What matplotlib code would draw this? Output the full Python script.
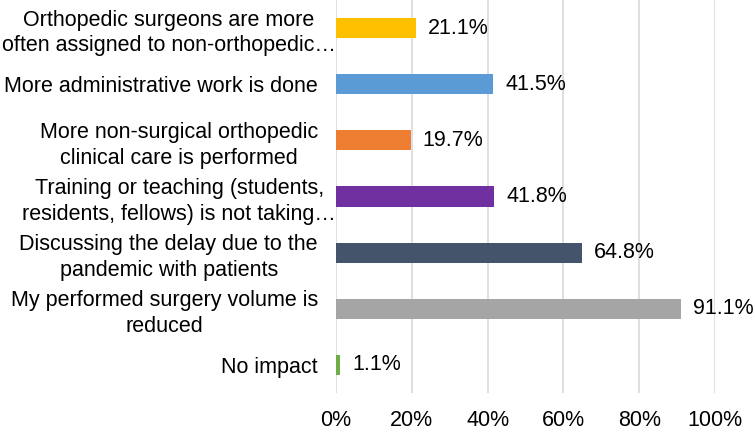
import matplotlib.pyplot as plt
from matplotlib.transforms import ScaledTranslation

plt.rcParams['font.family'] = ['Liberation Sans', 'DejaVu Sans']

categories = [
    'No impact',
    'My performed surgery volume is\nreduced',
    'Discussing the delay due to the\npandemic with patients',
    'Training or teaching (students,\nresidents, fellows) is not taking…',
    'More non-surgical orthopedic\nclinical care is performed',
    'More administrative work is done',
    'Orthopedic surgeons are more\noften assigned to non-orthopedic…',
]
values = [1.1, 91.1, 64.8, 41.8, 19.7, 41.5, 21.1]
colors = ['#70AD47', '#A5A5A5', '#44546A', '#7030A0', '#ED7D31', '#5B9BD5', '#FFC000']
xticks = [0, 20, 40, 60, 80, 100]

fig = plt.figure(figsize=(7.55, 4.33), dpi=100)
ax = fig.add_axes([0.445, 0.0924, 0.502, 0.9076])

y = range(len(categories))
bars = ax.barh(y, values, height=0.36, color=colors, zorder=3)
ax.bar_label(bars, labels=[f'{v:.1f}%' for v in values], padding=8.5, fontsize=15.5)

ax.set_xlim(0, 100)
ax.set_ylim(-0.5, len(categories) - 0.5)
ax.set_xticks(xticks)
ax.set_xticklabels([f'{t}%' for t in xticks])
ax.set_yticks(list(y))
ax.set_yticklabels(categories, multialignment='center', linespacing=1.3)
ax.tick_params(axis='both', length=0, labelsize=15.5)
ax.tick_params(axis='y', pad=13)
ax.tick_params(axis='x', pad=12)
ax.grid(axis='x', color='#D9D9D9', linewidth=1.2, zorder=0)
for s in ax.spines.values():
    s.set_visible(False)

# truncated labels run a bit past the others, toward the axis
shift = ScaledTranslation(13 / 72, 0, fig.dpi_scale_trans)
for lbl in ax.get_yticklabels():
    if '…' in lbl.get_text():
        lbl.set_transform(lbl.get_transform() + shift)

fig.savefig('out.png', dpi=100)
